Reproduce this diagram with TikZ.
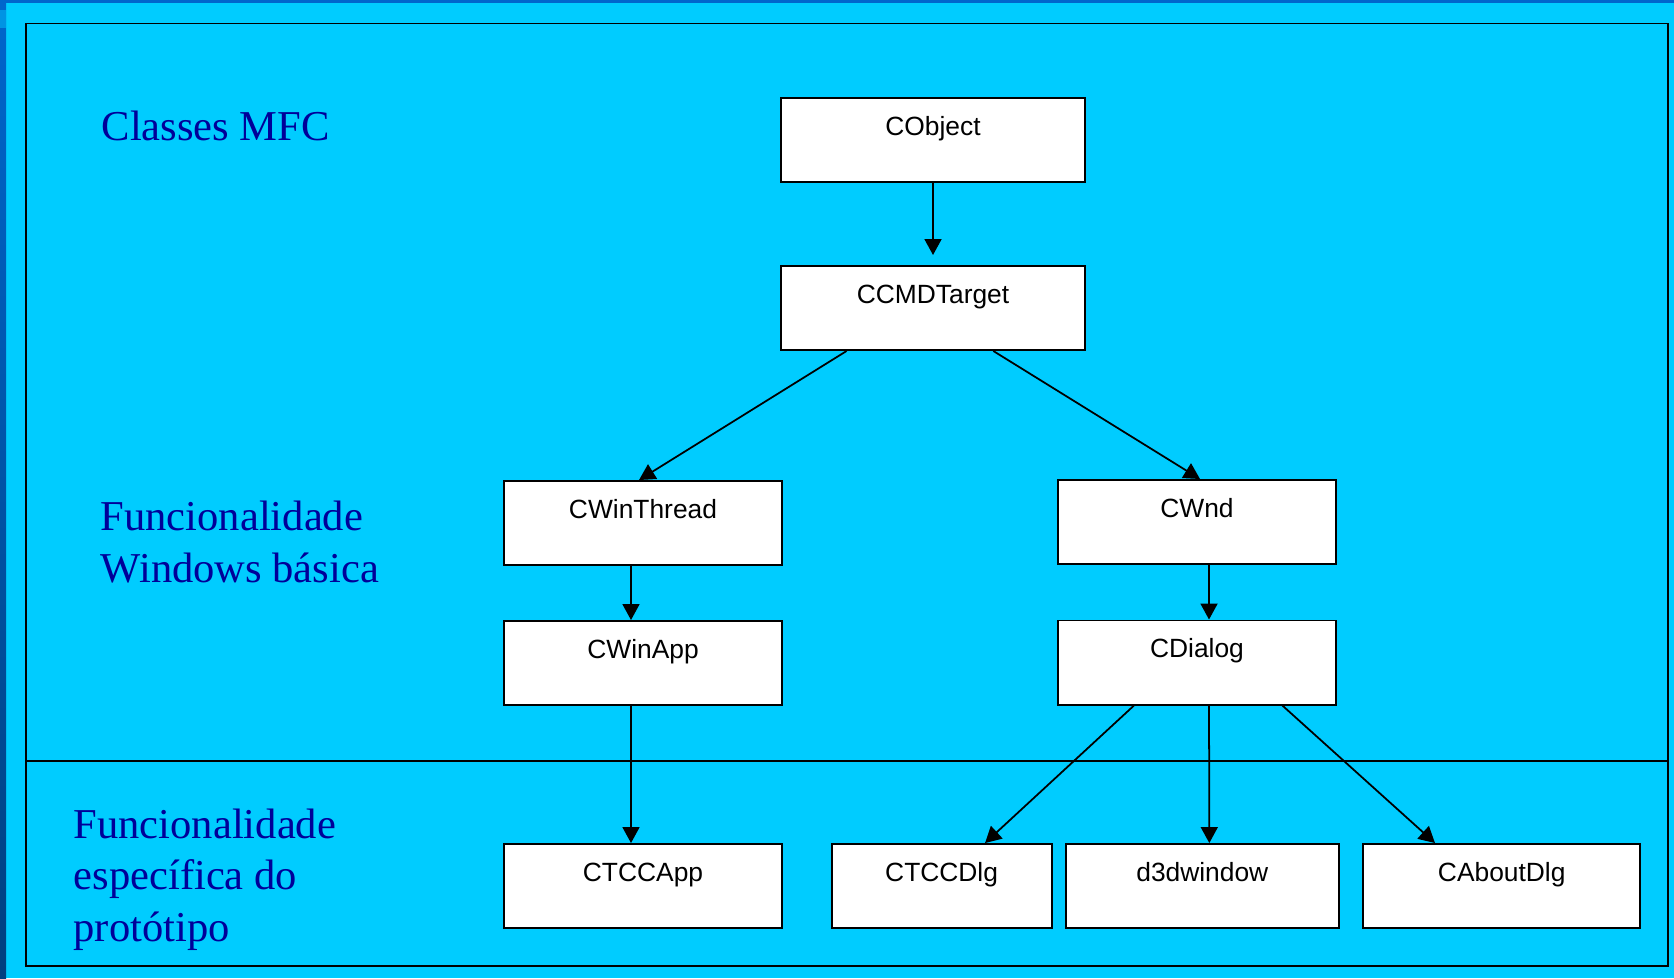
\documentclass[tikz,border=0pt]{standalone}
\usepackage{fontspec}
\setmainfont{Liberation Serif}
\newfontfamily\boxfont{Liberation Sans}
\usetikzlibrary{arrows.meta}

\definecolor{slidecyan}{HTML}{00CCFF}
\definecolor{slideblue}{HTML}{0066CC}
\definecolor{slidedark}{HTML}{004080}
\definecolor{labelblue}{HTML}{000099}

\tikzset{
    classbox/.style={draw=black, line width=0.55pt, fill=white, inner sep=0pt,
        minimum height=0.84cm, text height=0.37cm, text depth=0.47cm,
        font=\boxfont\fontsize{7.5pt}{9pt}\selectfont},
    layertext/.style={anchor=base west, align=left, inner sep=0pt, text=labelblue,
        font=\fontsize{12.1pt}{14.6pt}\selectfont},
    link/.style={->, line width=0.5pt},
}

\begin{document}
\begin{tikzpicture}[x=0.01cm, y=-0.01cm, >={Triangle[length=0.16cm, width=0.17cm]}]
    \useasboundingbox (0,0) rectangle (1674,978);

    \fill[slidecyan] (0,0) rectangle (1674,978);
    \fill[slideblue] (0,0) rectangle (1674,3);
    \shade[top color=slideblue, bottom color=slidedark] (0,0) rectangle (6,978);
    \fill[slideblue!55!slidecyan] (0,10) rectangle (6,28);

    \draw[line width=0.55pt] (26,23.5) rectangle (1668,966);
    \draw[line width=0.55pt] (26,761) -- (1668,761);

    \node[layertext] (lblmfc) at (101,140) {Classes MFC};
    \node[layertext] (lblwin) at (100,582) {Funcionalidade\\Windows básica};
    \node[layertext] (lblproto) at (73,941) {Funcionalidade\\específica do\\protótipo};

    \node[classbox, minimum width=3.03cm] (cobject) at (933,140) {CObject};
    \node[classbox, minimum width=3.03cm] (ccmdtarget) at (933,308) {CCMDTarget};

    \node[classbox, minimum width=2.78cm] (cwinthread) at (643,523) {CWinThread};
    \node[classbox, minimum width=2.78cm] (cwinapp) at (643,663) {CWinApp};
    \node[classbox, minimum width=2.77cm] (cwnd) at (1197,522) {CWnd};
    \node[classbox, minimum width=2.77cm] (cdialog) at (1197,662.5) {CDialog};

    \node[classbox, minimum width=2.78cm] (ctccapp) at (643,886) {CTCCApp};
    \node[classbox, minimum width=2.2cm] (ctccdlg) at (941.6,886) {CTCCDlg};
    \node[classbox, minimum width=2.73cm] (d3dwindow) at (1202.3,886) {d3dwindow};
    \node[classbox, minimum width=2.77cm] (caboutdlg) at (1501.7,886) {CAboutDlg};

    \draw[link, shorten >=0.1cm] (cobject) -- (ccmdtarget);
    \draw[link] ([xshift=-0.864cm]ccmdtarget.south) -- ([xshift=-0.04cm]cwinthread.north);
    \draw[link] ([xshift=0.603cm]ccmdtarget.south) -- ([xshift=0.03cm]cwnd.north);

    \draw[link] ([xshift=-0.12cm]cwinthread.south) -- ([xshift=-0.12cm]cwinapp.north);
    \draw[link] ([xshift=-0.12cm]cwinapp.south) -- ([xshift=-0.12cm]ctccapp.north);
    \draw[link] ([xshift=0.12cm]cwnd.south) -- ([xshift=0.12cm]cdialog.north);

    \draw[link] ([xshift=-0.63cm]cdialog.south) -- ([xshift=0.434cm]ctccdlg.north);
    \draw[link] ([xshift=0.12cm]cdialog.south) -- ([xshift=0.07cm]d3dwindow.north);
    \draw[link] ([xshift=0.853cm]cdialog.south) -- ([xshift=-0.667cm]caboutdlg.north);
\end{tikzpicture}
\end{document}
